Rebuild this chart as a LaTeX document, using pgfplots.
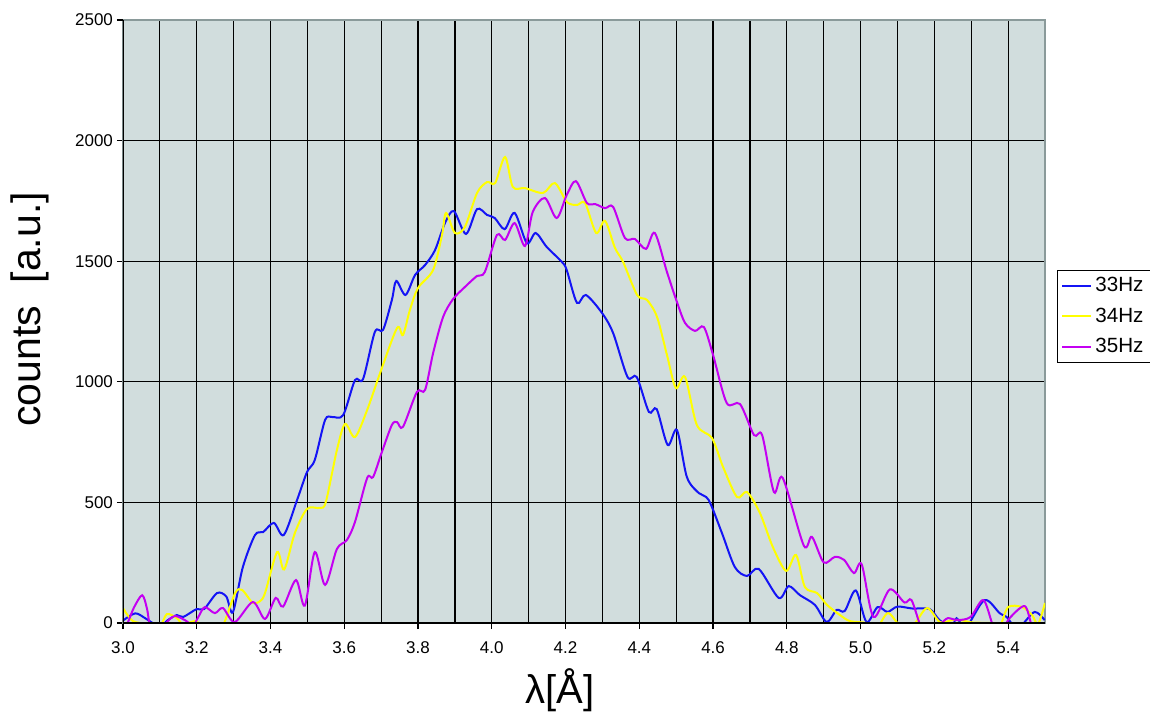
\documentclass[border=0pt]{standalone}
\usepackage{pgfplots}
\pgfplotsset{compat=1.18}
\usepackage{pgfplotstable}
\usepackage{fontspec}
\setmainfont{Liberation Sans}
\definecolor{plotbg}{HTML}{D1DDDD}
\definecolor{plotedge}{HTML}{8A9A9A}
\definecolor{c33}{HTML}{1414F5}
\definecolor{c34}{HTML}{FFFF00}
\definecolor{c35}{HTML}{C400F2}

% 33Hz
\pgfplotstableread{
x y
3.000 10
3.033 40
3.060 20
3.080 0
3.100 -20
3.120 10
3.146 33
3.163 25
3.200 58
3.220 58
3.255 124
3.280 110
3.298 45
3.325 232
3.358 365
3.380 377
3.409 415
3.436 365
3.472 510
3.499 626
3.520 676
3.548 842
3.567 854
3.597 862
3.629 1007
3.651 1012
3.683 1207
3.705 1215
3.729 1339
3.741 1418
3.766 1360
3.792 1443
3.819 1484
3.846 1546
3.873 1658
3.897 1708
3.930 1613
3.960 1716
3.987 1692
4.008 1679
4.035 1633
4.062 1700
4.095 1575
4.119 1617
4.149 1559
4.190 1497
4.203 1464
4.231 1327
4.255 1360
4.299 1285
4.329 1202
4.368 1020
4.393 1020
4.426 875
4.447 887
4.477 738
4.502 800
4.529 605
4.561 539
4.588 510
4.624 373
4.659 232
4.692 195
4.724 224
4.778 104
4.805 153
4.835 116
4.876 75
4.908 4
4.935 54
4.957 50
4.987 135
5.016 4
5.046 66
5.073 46
5.100 68
5.141 60
5.187 58
5.214 12
5.247 -15
5.260 20
5.287 -15
5.336 95
5.377 41
5.396 25
5.417 -15
5.436 -10
5.472 46
5.499 12
}\tabA

% 34Hz
\pgfplotstableread{
x y
3.000 62
3.027 8
3.073 -5
3.100 -15
3.119 37
3.146 20
3.163 -5
3.195 8
3.214 -10
3.241 -40
3.271 -10
3.304 124
3.323 137
3.352 83
3.371 90
3.385 124
3.418 294
3.437 222
3.466 373
3.499 473
3.534 477
3.550 502
3.580 717
3.602 825
3.629 771
3.662 883
3.697 1036
3.743 1223
3.759 1194
3.778 1298
3.800 1389
3.841 1464
3.865 1609
3.876 1700
3.900 1617
3.927 1642
3.960 1783
3.987 1828
4.009 1824
4.036 1932
4.057 1808
4.090 1803
4.139 1783
4.171 1824
4.204 1745
4.231 1733
4.253 1741
4.283 1617
4.307 1667
4.334 1555
4.356 1497
4.394 1360
4.421 1339
4.448 1269
4.475 1111
4.499 974
4.524 1020
4.556 821
4.597 767
4.627 647
4.665 522
4.692 543
4.727 456
4.762 315
4.798 216
4.825 282
4.849 149
4.882 124
4.909 75
4.944 33
4.971 8
5.017 0
5.044 -20
5.074 41
5.107 -10
5.142 -10
5.180 62
5.215 4
5.248 12
5.270 12
5.305 2
5.351 0
5.378 -10
5.400 66
5.438 66
5.465 33
5.481 -5
5.500 83
}\tabB

% 35Hz
\pgfplotstableread{
x y
3.000 -20
3.011 -5
3.030 65
3.052 115
3.065 60
3.076 -30
3.100 -40
3.120 5
3.141 29
3.170 10
3.190 -10
3.206 30
3.222 66
3.249 41
3.271 62
3.303 4
3.352 87
3.385 17
3.414 104
3.434 68
3.469 178
3.493 72
3.520 294
3.548 158
3.580 307
3.607 344
3.629 419
3.662 601
3.678 605
3.702 709
3.729 821
3.743 833
3.759 813
3.797 958
3.819 966
3.841 1120
3.868 1269
3.895 1343
3.927 1393
3.960 1439
3.981 1455
4.014 1609
4.036 1588
4.062 1658
4.090 1563
4.111 1704
4.144 1762
4.176 1679
4.203 1774
4.228 1832
4.258 1741
4.280 1737
4.307 1720
4.329 1725
4.361 1596
4.388 1592
4.418 1551
4.442 1617
4.475 1455
4.502 1331
4.524 1244
4.551 1211
4.575 1227
4.600 1111
4.637 912
4.673 908
4.711 779
4.733 779
4.765 543
4.789 601
4.846 321
4.868 357
4.900 251
4.930 274
4.955 262
4.982 207
5.003 243
5.035 25
5.079 139
5.119 85
5.138 95
5.165 -20
5.190 -40
5.217 -5
5.236 20
5.263 12
5.298 25
5.333 95
5.360 -15
5.380 -40
5.404 20
5.445 70
5.464 -10
5.480 -40
5.500 -30
}\tabC

\begin{document}
\begin{tikzpicture}
\path[use as bounding box] (-61.5pt,-45pt) rectangle (513.5pt,311.5pt);
\begin{axis}[at={(0,0)},anchor=south west,
  scale only axis,width=461pt,height=301.5pt,
  xmin=3,xmax=5.5,ymin=0,ymax=2500,
  xtick={3.0,3.2,3.4,3.6,3.8,4.0,4.2,4.4,4.6,4.8,5.0,5.2,5.4},
  minor xtick={3.1,3.3,3.5,3.7,3.9,4.1,4.3,4.5,4.7,4.9,5.1,5.3},
  ytick={0,500,1000,1500,2000},
  extra y ticks={2500},extra y tick style={grid=none},
  xtick pos=bottom,ytick pos=left,
  tick align=outside,major tick length=3pt,minor tick length=0pt,
  tick style={black,line width=0.6pt},
  grid=both,
  major grid style={black,line width=0.6pt},
  minor grid style={black,line width=0.6pt},
  axis line style={plotedge,line width=0.6pt},
  axis background/.style={fill=plotbg},
  xticklabel style={yshift=-3pt,/pgf/number format/.cd,fixed,fixed zerofill,precision=1},
  yticklabel style={xshift=1.5pt,/pgf/number format/.cd,fixed,1000 sep={}},
  ticklabel style={font=\fontsize{8.5}{10}\selectfont},
  /pgf/number format/assume math mode=true,
  xlabel={λ[Å]},
  xlabel style={at={(axis description cs:0.474,-0.111)},anchor=center,font=\fontsize{20}{24}\selectfont},
  ylabel={counts\ \ [a.u.]},
  ylabel style={at={(axis description cs:-0.101,0.52)},anchor=center,font=\fontsize{20.5}{24}\selectfont},
  legend style={at={(axis description cs:1.013,0.5854)},anchor=north west,draw=black,fill=white,
    font=\fontsize{10.3}{12}\selectfont,inner sep=2pt,row sep=3.5pt,
    nodes={inner sep=1.5pt},cells={anchor=west}},
  legend image code/.code={\draw[#1] (0pt,0pt) -- (14.5pt,0pt);},
]
\addplot[c33,line width=1pt,smooth] table[x=x,y=y] {\tabA};
\addlegendentry{33Hz}
\addplot[c34,line width=1pt,smooth] table[x=x,y=y] {\tabB};
\addlegendentry{34Hz}
\addplot[c35,line width=1pt,smooth] table[x=x,y=y] {\tabC};
\addlegendentry{35Hz}
\draw[black,line width=0.75pt] (rel axis cs:0,0) -- (rel axis cs:0,1);
\draw[black,line width=0.75pt] (rel axis cs:0,0) -- (rel axis cs:1,0);
\end{axis}
\end{tikzpicture}
\end{document}
